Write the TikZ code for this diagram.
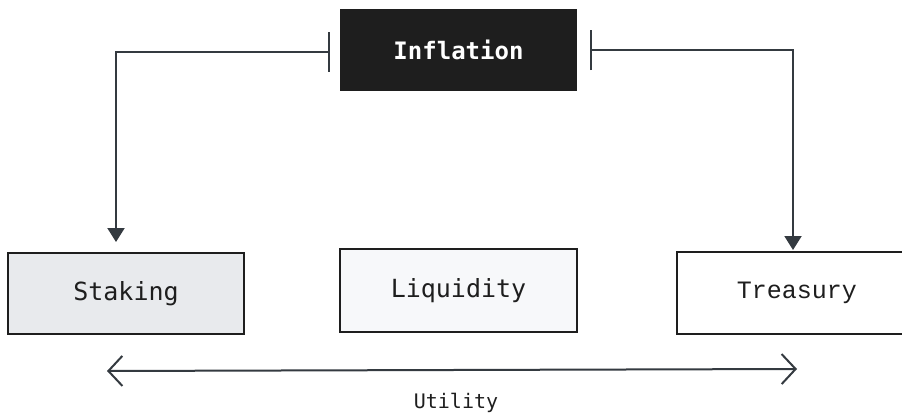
\documentclass[tikz,border=0pt]{standalone}
\usepackage{fontspec}
\setmonofont{DejaVu Sans Mono}
\newfontfamily\treasfont{Liberation Mono}
\usetikzlibrary{arrows.meta}
\definecolor{inkdark}{HTML}{1E1E1E}
\definecolor{linegray}{HTML}{343A40}
\definecolor{stakefill}{HTML}{E8EAED}
\definecolor{liqfill}{HTML}{F7F8FA}
\begin{document}
\begin{tikzpicture}[x=1pt,y=-1pt,
  box/.style={draw=inkdark,line width=2pt,minimum width=236pt,minimum height=81pt,inner sep=0pt,font=\ttfamily\fontsize{25}{25}\selectfont,text=inkdark},
  conn/.style={draw=linegray,line width=2pt},
]
\useasboundingbox[fill=white] (0,0) rectangle (902,415);
\node[box,fill=inkdark,text=white,minimum width=235pt,minimum height=80pt,font=\ttfamily\bfseries\fontsize{24}{24}\selectfont] (infl) at (458.5,50) {Inflation};
\node[box,fill=stakefill] (stak) at (126,293.5) {Staking};
\node[box,fill=liqfill,minimum width=237pt,minimum height=83pt] (liq) at (458.5,290.5) {Liquidity};
\node[box,fill=white,minimum width=240pt,minimum height=82pt,font=\treasfont\fontsize{25}{25}\selectfont] (treas) at (797,293) {Treasury};
\coordinate (sa) at (116,253);
\coordinate (ta) at (793,252);
\draw[conn,{Bar[width=40pt,line width=2pt]}-{Triangle[length=14pt,width=17pt]},shorten <=10pt,shorten >=11pt] ([yshift=-2pt]infl.west) -| (sa);
\draw[conn,{Bar[width=40pt,line width=2pt]}-{Triangle[length=14pt,width=17pt]},shorten <=13pt,shorten >=2pt] (infl.east) -| (ta);
\coordinate (ul) at (107,371);
\coordinate (ur) at (797,369);
\draw[conn,{Straight Barb[length=14pt,width=30pt,line width=2pt]}-{Straight Barb[length=14pt,width=30pt,line width=2pt]}] (ul) -- (ur);
\node[font=\ttfamily\fontsize{20}{20}\selectfont,text=inkdark] (util) at (456,403) {Utility};
\end{tikzpicture}
\end{document}
